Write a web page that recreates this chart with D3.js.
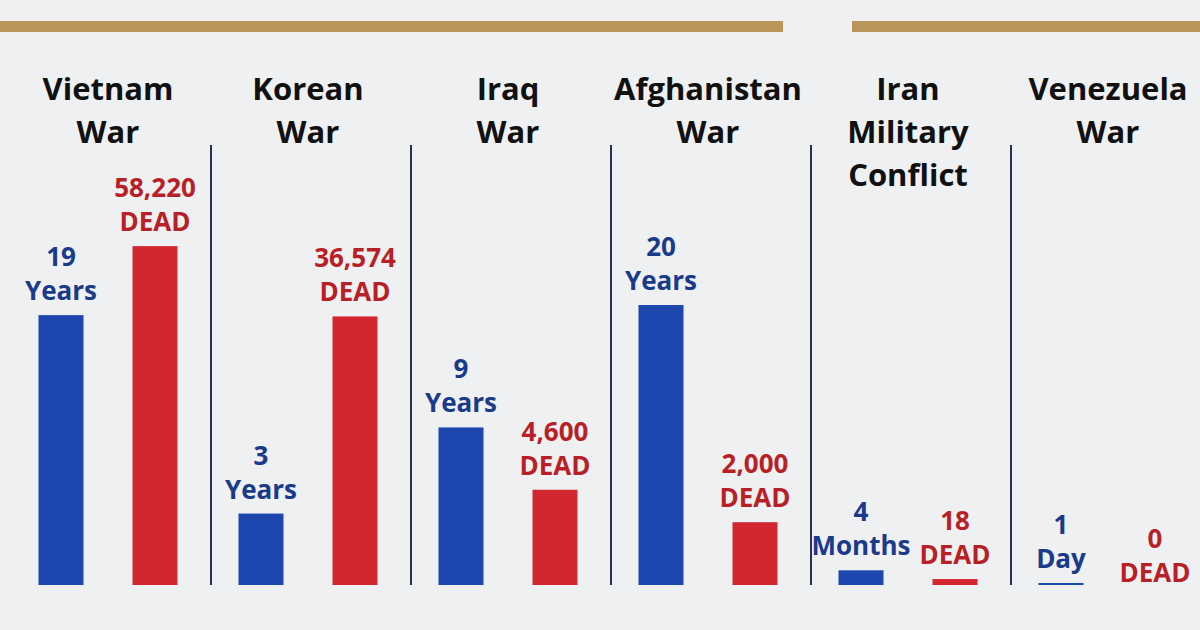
<!DOCTYPE html>
<html>
<head>
<meta charset="utf-8">
<script src="https://cdn.jsdelivr.net/npm/d3@7"></script>
<style>
  html, body { margin: 0; padding: 0; background: #eef0f1; }
  svg { display: block; font-family: "Open Sans", "Noto Sans", sans-serif; font-weight: 700; }
</style>
</head>
<body>
<script>
// wars, one column each
let wars = ['Vietnam War', 'Korean War', 'Iraq War', 'Afghanistan War', 'Iran Military Conflict', 'Venezuela War']
let titleLines = [['Vietnam', 'War'], ['Korean', 'War'], ['Iraq', 'War'], ['Afghanistan', 'War'], ['Iran', 'Military', 'Conflict'], ['Venezuela', 'War']]
// duration in years (4 months, 1 day)
let years = [19, 3, 9, 20, 4 / 12, 1 / 365]
let durationNum = ['19', '3', '9', '20', '4', '1']
let durationUnit = ['Years', 'Years', 'Years', 'Years', 'Months', 'Day']
// US dead
let dead = [58220, 36574, 4600, 2000, 18, 0]

let W = 1200
let H = 630
let baseY = 585
let topY = 145

let svg = d3.select('body').append('svg')
  .attr('width', W)
  .attr('height', H)

// gold rule at the top
svg.append('rect').attr('x', 0).attr('y', 21).attr('width', 783).attr('height', 11).attr('fill', '#b9955a')
svg.append('rect').attr('x', 852).attr('y', 21).attr('width', 348).attr('height', 11).attr('fill', '#b9955a')

let x0 = d3.scaleBand().domain(wars).range([8, 1208])
let x1 = d3.scalePoint().domain(['years', 'dead']).range([53, 147])
let barW = 45

let yYears = d3.scalePow().exponent(0.72).domain([0, 20]).range([0, 280])
let yDead = d3.scaleSqrt().domain([0, 60000]).range([0, 344])

function barH (scale, v) {
  if (v <= 0) return 0
  return Math.max(2, scale(v))
}

// dividers
svg.append('g').selectAll('line')
  .data(wars.slice(1))
  .enter().append('line')
  .attr('x1', d => x0(d) + 3).attr('x2', d => x0(d) + 3)
  .attr('y1', topY).attr('y2', baseY)
  .attr('stroke', '#2d3150')
  .attr('stroke-width', 2)

let col = svg.append('g').selectAll('g')
  .data(wars)
  .enter().append('g')
  .attr('transform', d => 'translate(' + x0(d) + ',0)')

// titles
col.append('text')
  .attr('x', x0.bandwidth() / 2)
  .attr('text-anchor', 'middle')
  .attr('font-size', 31)
  .attr('fill', '#111')
  .selectAll('tspan')
  .data((d, i) => titleLines[i])
  .enter().append('tspan')
  .attr('x', x0.bandwidth() / 2)
  .attr('y', (d, j) => 100 + j * 43)
  .text(d => d)

// duration bars
col.append('rect')
  .attr('x', x1('years') - barW / 2)
  .attr('width', barW)
  .attr('y', (d, i) => baseY - barH(yYears, years[i]))
  .attr('height', (d, i) => barH(yYears, years[i]))
  .attr('fill', '#1d46ae')

// dead bars
col.append('rect')
  .attr('x', x1('dead') - barW / 2)
  .attr('width', barW)
  .attr('y', (d, i) => baseY - barH(yDead, dead[i]))
  .attr('height', (d, i) => barH(yDead, dead[i]))
  .attr('fill', '#d2272e')

// labels
function label (g, key, lines, color, scale, vals) {
  g.append('text')
    .attr('text-anchor', 'middle')
    .attr('font-size', 26)
    .attr('fill', color)
    .each(function (d, i) {
      let h = barH(scale, vals[i])
      let top = baseY - h
      let gap = h > 0 ? 15 : 3
      let t = d3.select(this)
      let ls = lines(i)
      ls.forEach((s, j) => {
        t.append('tspan')
          .attr('x', x1(key))
          .attr('y', top - gap - (ls.length - 1 - j) * 34)
          .text(s)
      })
    })
}
label(col, 'years', i => [durationNum[i], durationUnit[i]], '#1a3a8a', yYears, years)
label(col, 'dead', i => [d3.format(',')(dead[i]), 'DEAD'], '#b81f26', yDead, dead)
</script>
</body>
</html>
